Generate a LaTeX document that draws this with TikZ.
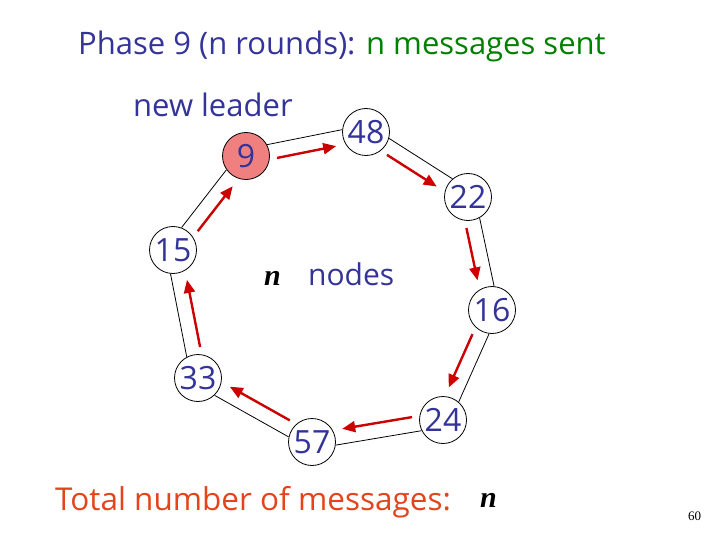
\documentclass[tikz,border=0pt]{standalone}
\usepackage{fontspec}
\setmainfont{Open Sans}
\newfontfamily\serifn{Liberation Serif}
\usetikzlibrary{calc,arrows.meta}
\definecolor{txtblue}{RGB}{51,51,153}
\definecolor{txtgreen}{RGB}{0,128,0}
\definecolor{txtred}{RGB}{228,68,28}
\definecolor{msgred}{RGB}{204,0,0}
\definecolor{leaderpink}{RGB}{240,128,128}
\tikzset{
  proc/.style={circle,draw,fill=white,line width=0.8pt,minimum size=47pt,inner sep=0pt,
    text=txtblue,font=\fontsize{32}{32}\selectfont},
  link/.style={line width=0.8pt,shorten <=23pt,shorten >=23pt},
  msg/.style={msgred,line width=2.4pt,-{Triangle[length=13pt,width=11pt]},
    shorten <=30pt,shorten >=32pt},
  lbl/.style={inner sep=0pt,anchor=base west}
}
\begin{document}
\begin{tikzpicture}[x=1pt,y=-1pt]
  \useasboundingbox (0,0) rectangle (720,540);
  % headings
  \node[lbl,text=txtblue,font=\fontsize{31}{31}\selectfont] (title) at (78,55)
    {Phase 9 (n rounds): \textcolor{txtgreen}{n messages sent}};
  \node[lbl,text=txtblue,font=\fontsize{31}{31}\selectfont] (leader) at (133,117) {new leader};
  % ring of processors
  \node[proc,fill=leaderpink] (n9) at (246,156) {9};
  \node[proc] (n48) at (366,132) {48};
  \node[proc] (n22) at (468,197) {22};
  \node[proc] (n16) at (492,310) {16};
  \node[proc] (n24) at (443,420) {24};
  \node[proc] (n57) at (312,442) {57};
  \node[proc] (n33) at (198,378) {33};
  \node[proc] (n15) at (173,250) {15};
  \foreach \a/\b in {n9/n48,n48/n22,n22/n16,n16/n24,n24/n57,n57/n33,n33/n15,n15/n9} {
    \draw[link] ($(\a.center)!7pt!90:(\b.center)$) -- ($(\b.center)!7pt!-90:(\a.center)$);
    \draw[msg] ($(\a.center)!8pt!-90:(\b.center)$) -- ($(\b.center)!8pt!90:(\a.center)$);
  }
  \node[lbl,font=\fontsize{30}{30}\serifn\bfseries\itshape] (nn) at (264,285) {n};
  \node[lbl,text=txtblue,font=\fontsize{30}{30}\selectfont] (nodes) at (308,285) {nodes};
  % total
  \node[lbl,text=txtred,font=\fontsize{31.5}{31.5}\selectfont] (total) at (55,510) {Total number of messages:};
  \node[lbl,font=\fontsize{30}{30}\serifn\bfseries\itshape] (tn) at (480,507) {n};
  \node[lbl,font=\fontsize{13}{13}\serifn] (page) at (688,520) {60};
\end{tikzpicture}
\end{document}
